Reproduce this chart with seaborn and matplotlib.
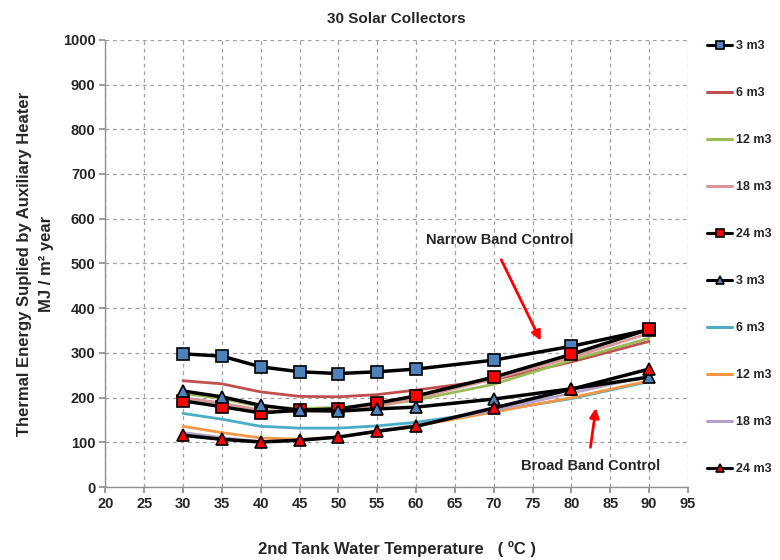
import matplotlib
matplotlib.use("Agg")
import matplotlib.pyplot as plt
import seaborn as sns
import pandas as pd

sns.set_theme(style="white")
plt.rcParams['font.family'] = ['Liberation Sans', 'DejaVu Sans']

temps = [30, 35, 40, 45, 50, 55, 60, 70, 80, 90]

narrow_3 = [298, 293, 269, 258, 254, 258, 264, 284, 315, 352]
narrow_6 = [238, 231, 213, 203, 202, 207, 217, 240, 280, 326]
narrow_12 = [210, 198, 180, 176, 178, 182, 195, 230, 284, 333]
narrow_18 = [200, 188, 172, 168, 172, 180, 199, 242, 290, 344]
narrow_24 = [193, 180, 166, 172, 175, 188, 204, 246, 297, 353]
broad_3 = [215, 202, 183, 172, 170, 175, 179, 197, 220, 246]
broad_6 = [165, 152, 136, 132, 132, 137, 145, 170, 198, 236]
broad_12 = [136, 122, 110, 107, 112, 124, 137, 168, 200, 238]
broad_18 = [122, 111, 102, 104, 112, 126, 139, 172, 210, 249]
broad_24 = [116, 107, 101, 105, 112, 125, 136, 177, 219, 264]

labels = ["3 m3", "6 m3", "12 m3", "18 m3", "24 m3",
          "3 m3", "6 m3", "12 m3", "18 m3", "24 m3"]
x_ticks = list(range(20, 100, 5))
y_ticks = list(range(0, 1100, 100))

series = [narrow_3, narrow_6, narrow_12, narrow_18, narrow_24,
          broad_3, broad_6, broad_12, broad_18, broad_24]
styles = [
    dict(color="black", marker="s", mfc="#4F81BD", lw=2.5, z=5),
    dict(color="#C0504D", marker=None, mfc=None, lw=2.0, z=3),
    dict(color="#9BBB59", marker=None, mfc=None, lw=2.0, z=3),
    dict(color="#D99694", marker=None, mfc=None, lw=2.0, z=3),
    dict(color="black", marker="s", mfc="#FF0000", lw=2.5, z=5),
    dict(color="black", marker="^", mfc="#4F81BD", lw=2.5, z=5),
    dict(color="#4BACC6", marker=None, mfc=None, lw=2.0, z=3),
    dict(color="#F79646", marker=None, mfc=None, lw=2.0, z=3),
    dict(color="#B3A2C7", marker=None, mfc=None, lw=2.0, z=3),
    dict(color="black", marker="^", mfc="#FF0000", lw=2.5, z=5),
]

fig = plt.figure(figsize=(7.8, 5.6), dpi=100)
ax = fig.add_axes([0.135, 0.130, 0.747, 0.799])

for vals, lab, st in zip(series, labels, styles):
    df = pd.DataFrame({"T": temps, "E": vals})
    kw = dict(color=st["color"], linewidth=st["lw"], zorder=st["z"], label=lab)
    if st["marker"]:
        kw.update(marker=st["marker"], markersize=8, markerfacecolor=st["mfc"],
                  markeredgecolor="black", markeredgewidth=1.2)
    sns.lineplot(data=df, x="T", y="E", ax=ax, legend="brief", **kw)

handles, labs = ax.get_legend_handles_labels()
if ax.get_legend() is not None:
    ax.get_legend().remove()

ax.set_xlim(20, 95)
ax.set_ylim(0, 1000)
ax.set_xticks(x_ticks)
ax.set_yticks(y_ticks)
ax.grid(True, linestyle=(0, (3, 3)), color="#A0A0A0", linewidth=0.9)
for s in ["top", "right"]:
    ax.spines[s].set_visible(False)
for s in ["left", "bottom"]:
    ax.spines[s].set_color("#909090")
    ax.spines[s].set_linewidth(1.0)
ax.tick_params(axis="both", which="both", length=4, color="#909090",
               labelsize=10.5, direction="out", bottom=True, left=True, pad=3)
for t in ax.get_xticklabels() + ax.get_yticklabels():
    t.set_fontweight("bold")

ax.set_xlabel("2nd Tank Water Temperature   ( ºC )", fontsize=12,
              fontweight="bold", labelpad=22)
ax.set_ylabel("Thermal Energy Suplied by Auxiliary Heater\nMJ / m² year",
              fontsize=12, fontweight="bold", labelpad=6, linespacing=1.6)
ax.set_title("30 Solar Collectors", fontsize=11, fontweight="bold", pad=12)

ax.annotate("", xy=(76.2, 322), xytext=(70.8, 514),
            arrowprops=dict(arrowstyle="-|>", color="red", lw=2, mutation_scale=14))
ax.text(70.8, 553, "Narrow Band Control", ha="center", va="center",
        fontsize=10.5, fontweight="bold")
ax.annotate("", xy=(83.2, 183), xytext=(82.4, 83),
            arrowprops=dict(arrowstyle="-|>", color="red", lw=2, mutation_scale=14))
ax.text(82.4, 47, "Broad Band Control", ha="center", va="center",
        fontsize=10.5, fontweight="bold")

leg = fig.legend(handles, labs, loc="upper left", bbox_to_anchor=(0.907, 0.928),
                 frameon=False, fontsize=9, labelspacing=2.8,
                 handlelength=2.0, handletextpad=0.3, borderaxespad=0,
                 borderpad=0)
for t in leg.get_texts():
    t.set_fontweight("bold")
for h in leg.legend_handles:
    h.set_markersize(6)
    h.set_linewidth(2.2)

fig.savefig("out.png", dpi=100)
